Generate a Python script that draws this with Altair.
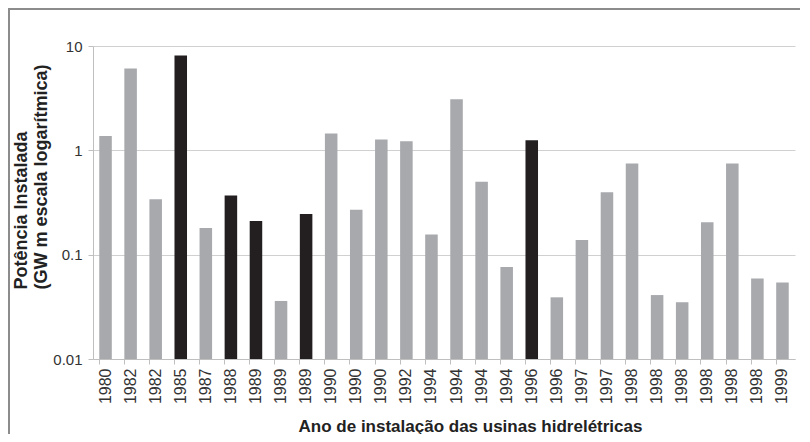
import altair as alt
import pandas as pd

labels = ["1980", "1982", "1982", "1985", "1987", "1988", "1989", "1989", "1989",
          "1990", "1990", "1990", "1992", "1994", "1994", "1994", "1994", "1996",
          "1996", "1997", "1997", "1998", "1998", "1998", "1998", "1998", "1998",
          "1999"]
values = [1.37, 6.1, 0.34, 8.1, 0.18, 0.37, 0.21, 0.036, 0.245, 1.45, 0.27, 1.27,
          1.22, 0.156, 3.08, 0.50, 0.076, 1.25, 0.039, 0.138, 0.396, 0.746, 0.041,
          0.035, 0.205, 0.746, 0.059, 0.054]
highlight = [0, 0, 0, 1, 0, 1, 1, 0, 1, 0, 0, 0, 0, 0, 0, 0, 0, 1, 0, 0, 0, 0, 0,
             0, 0, 0, 0, 0]

df = pd.DataFrame({
    "idx": list(range(len(values))),
    "value": values,
    "base": [0.01] * len(values),
    "group": ["black" if h else "grey" for h in highlight],
})

W, H = 702, 313
label_expr = "[" + ",".join(f"'{l}'" for l in labels) + "][datum.value]"

bars = alt.Chart(df).mark_bar().encode(
    x=alt.X("idx:O",
            scale=alt.Scale(paddingInner=0.5, paddingOuter=0.25),
            axis=alt.Axis(title="Ano de instalação das usinas hidrelétricas",
                          labelExpr=label_expr, labelAngle=270,
                          labelAlign="right", labelBaseline="middle",
                          labelFont="Liberation Sans", labelFontSize=16,
                          labelColor="#333333", labelPadding=4,
                          bandPosition=0, ticks=True, tickSize=5,
                          tickColor="#bfbfbf", domainColor="#bfbfbf",
                          titleFont="Liberation Sans", titleFontSize=17,
                          titleFontWeight="bold", titleColor="#222222",
                          titleX=377, titleY=72, titleBaseline="alphabetic",
                          grid=False)),
    y=alt.Y("value:Q",
            scale=alt.Scale(type="log", domain=[0.01, 10]),
            axis=alt.Axis(title=["Potência Instalada", "(GW m escala logarítmica)"],
                          values=[0.01, 0.1, 1, 10], labelExpr="datum.value + ''",
                          labelFont="Liberation Sans", labelFontSize=15,
                          labelColor="#333333", labelPadding=6,
                          tickSize=5, tickColor="#bfbfbf", domainColor="#bfbfbf",
                          gridColor="#d0d0d0", grid=True,
                          titleFont="Liberation Sans", titleFontSize=18,
                          titleFontWeight="bold", titleColor="#222222",
                          titleAngle=270, titleAlign="left",
                          titleBaseline="middle", titleLineHeight=20,
                          titleX=-72, titleY=243)),
    y2="base:Q",
    color=alt.Color("group:N",
                    scale=alt.Scale(domain=["grey", "black"],
                                    range=["#a7a9ac", "#231f20"]),
                    legend=None),
)

frame_left = alt.Chart(df).mark_rule(color="#8c8c8c", strokeWidth=1.5).encode(
    x=alt.value(-84), y=alt.value(-37), y2=alt.value(H + 75))
frame_top = alt.Chart(df).mark_rule(color="#8c8c8c", strokeWidth=1.5).encode(
    x=alt.value(-85), x2=alt.value(W + 5), y=alt.value(-37))

chart = alt.layer(bars, frame_left, frame_top).properties(
    width=W, height=H,
    autosize=alt.AutoSizeParams(type="none"),
    padding={"left": 85, "top": 38, "right": 5, "bottom": 75},
).configure_view(stroke=None)

chart.save("out.html", embed_options={"renderer": "svg", "actions": False})
